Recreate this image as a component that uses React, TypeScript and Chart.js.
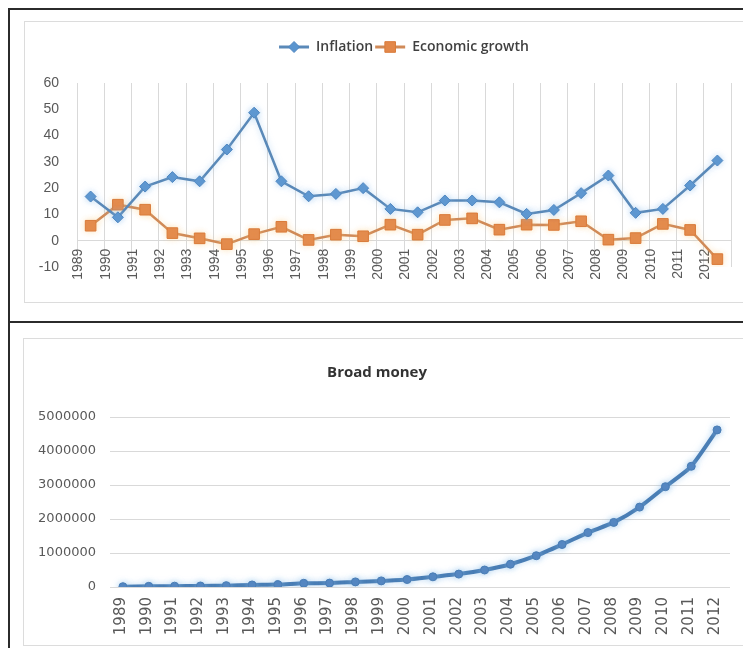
import React, { useEffect, useRef } from 'react';
import { Chart, registerables } from 'chart.js';

Chart.register(...registerables);

const years = ['1989', '1990', '1991', '1992', '1993', '1994', '1995', '1996', '1997', '1998', '1999', '2000', '2001', '2002', '2003', '2004', '2005', '2006', '2007', '2008', '2009', '2010', '2011', '2012'];
const inflation = [16.8, 8.9, 20.6, 24.2, 22.6, 34.7, 48.7, 22.6, 16.9, 17.8, 20.0, 12.1, 10.8, 15.3, 15.3, 14.6, 10.2, 11.7, 18.1, 24.8, 10.6, 12.1, 21.0, 30.5];
const economicGrowth = [5.7, 13.7, 11.8, 2.9, 0.9, -1.3, 2.5, 5.3, 0.3, 2.3, 1.7, 6.1, 2.3, 7.9, 8.5, 4.2, 6.1, 6.0, 7.4, 0.4, 1.0, 6.4, 4.1, -7.0];
const broadMoney = [10000, 20000, 25000, 30000, 40000, 60000, 70000, 110000, 115000, 150000, 180000, 220000, 300000, 380000, 500000, 670000, 920000, 1250000, 1600000, 1900000, 2350000, 2950000, 3550000, 4620000];
const topTicks = { min: -10, max: 60, step: 10 };
const bottomTicks = { min: 0, max: 5000000, step: 1000000 };

const GRID = '#d9d9d9';
const TEXT = '#595959';

const glowPlugin = {
  id: 'glow',
  beforeDatasetDraw(chart: any, args: any, opts: any) {
    const c = (opts && opts.colors && opts.colors[args.index]) || 'rgba(0,0,0,0)';
    chart.ctx.save();
    chart.ctx.shadowColor = c;
    chart.ctx.shadowBlur = 6;
  },
  afterDatasetDraw(chart: any) {
    chart.ctx.restore();
  },
};

const legendSpacer = {
  id: 'legendSpacer',
  beforeLayout(chart: any, _args: any, opts: any) {
    const lg = chart.legend;
    if (lg && !lg.__spaced) {
      const orig = lg.fit.bind(lg);
      lg.fit = function () {
        orig();
        this.height += (opts && opts.extra) || 0;
      };
      lg.__spaced = true;
    }
  },
};

const legendMarkers = {
  id: 'legendMarkers',
  afterDraw(chart: any) {
    const lg = chart.legend;
    if (!lg || !lg.legendHitBoxes) return;
    const ctx = chart.ctx;
    const bw = lg.options.labels.boxWidth;
    lg.legendHitBoxes.forEach((hb: any, i: number) => {
      const ds: any = chart.data.datasets[i];
      const cx = hb.left + bw / 2;
      const cy = hb.top + hb.height / 2;
      const r = ds.pointRadius;
      ctx.save();
      ctx.fillStyle = ds.pointBackgroundColor;
      ctx.strokeStyle = ds.pointBorderColor;
      ctx.lineWidth = 1;
      ctx.beginPath();
      if (ds.pointStyle === 'rectRot') {
        ctx.moveTo(cx - r, cy);
        ctx.lineTo(cx, cy - r);
        ctx.lineTo(cx + r, cy);
        ctx.lineTo(cx, cy + r);
        ctx.closePath();
      } else {
        const s = r * Math.SQRT1_2;
        ctx.rect(cx - s, cy - s, 2 * s, 2 * s);
      }
      ctx.fill();
      ctx.stroke();
      ctx.restore();
    });
  },
};

function TopChart() {
  const ref = useRef<HTMLCanvasElement>(null);
  useEffect(() => {
    if (!ref.current) return;
    const lineColors = ['#5A89B8', '#D08A58'];
    const tickFont = { family: '"Liberation Sans", Arial, sans-serif', size: 14 };
    const chart = new Chart(ref.current, {
      type: 'line',
      data: {
        labels: years,
        datasets: [
          {
            label: 'Inflation',
            data: inflation,
            borderColor: lineColors[0],
            backgroundColor: lineColors[0],
            borderWidth: 2.5,
            pointStyle: 'rectRot',
            pointRadius: 5.5,
            pointBackgroundColor: '#5B95CF',
            pointBorderColor: '#4F86C0',
            pointBorderWidth: 1,
            tension: 0,
          } as any,
          {
            label: 'Economic growth',
            data: economicGrowth,
            borderColor: lineColors[1],
            backgroundColor: lineColors[1],
            borderWidth: 2.5,
            pointStyle: 'rect',
            pointRadius: 7.5,
            pointBackgroundColor: '#E3884A',
            pointBorderColor: '#D97B3A',
            pointBorderWidth: 1,
            tension: 0,
          } as any,
        ],
      },
      options: {
        responsive: false,
        animation: false,
        devicePixelRatio: 1,
        layout: { padding: { top: 16, right: 17, bottom: 35, left: 0 } },
        plugins: {
          tooltip: { enabled: false },
          glow: { colors: ['rgba(140,190,235,0.55)', 'rgba(250,200,120,0.45)'] },
          legendSpacer: { extra: 19 },
          legend: {
            display: true,
            position: 'top',
            fullSize: false,
            labels: {
              boxWidth: 30,
              boxHeight: 3,
              padding: 2,
              color: '#404040',
              font: { family: '"Open Sans", sans-serif', size: 14, weight: '600' },
              generateLabels: (ch: any) =>
                (Chart.defaults.plugins.legend.labels.generateLabels as any)(ch).map((l: any) => ({
                  ...l,
                  fillStyle: lineColors[l.datasetIndex],
                  strokeStyle: lineColors[l.datasetIndex],
                  lineWidth: 0,
                })),
            },
          },
        } as any,
        scales: {
          x: {
            type: 'category',
            position: { y: 0 } as any,
            offset: true,
            grid: { offset: true, color: GRID, lineWidth: 1, drawTicks: false },
            border: { display: true, color: GRID, width: 1 },
            ticks: {
              autoSkip: false,
              minRotation: 90,
              maxRotation: 90,
              padding: 8,
              labelOffset: -12,
              color: TEXT,
              font: tickFont,
            },
          },
          y: {
            min: topTicks.min,
            max: topTicks.max,
            grid: { display: false, drawTicks: false },
            border: { display: false },
            ticks: { stepSize: topTicks.step, padding: 18, color: TEXT, font: tickFont },
            afterFit: (s: any) => {
              s.width = 52;
            },
          },
        },
      } as any,
      plugins: [glowPlugin, legendSpacer, legendMarkers],
    });
    return () => chart.destroy();
  }, []);
  return <canvas ref={ref} width={723} height={280} style={{ display: 'block', width: 723, height: 280 }} />;
}

function BottomChart() {
  const ref = useRef<HTMLCanvasElement>(null);
  useEffect(() => {
    if (!ref.current) return;
    const chart = new Chart(ref.current, {
      type: 'line',
      data: {
        labels: years,
        datasets: [
          {
            label: 'Broad money',
            data: broadMoney,
            borderColor: '#4A7EB5',
            backgroundColor: '#4F81BD',
            borderWidth: 4,
            pointStyle: 'circle',
            pointRadius: 4,
            pointBackgroundColor: '#4F81BD',
            pointBorderColor: '#4A7EB5',
            pointBorderWidth: 1,
            tension: 0.2,
          } as any,
        ],
      },
      options: {
        responsive: false,
        animation: false,
        devicePixelRatio: 1,
        layout: { padding: { top: 0, right: 18, bottom: 0, left: 0 } },
        plugins: {
          tooltip: { enabled: false },
          legend: { display: false },
          glow: { colors: ['rgba(140,190,235,0.6)'] },
          title: {
            display: true,
            text: 'Broad money',
            color: '#333333',
            font: { family: '"Open Sans", sans-serif', size: 15, weight: 'bold' },
            padding: { top: 25, bottom: 35 },
          },
        } as any,
        scales: {
          x: {
            offset: true,
            grid: { display: false, drawTicks: false },
            border: { display: false },
            ticks: {
              autoSkip: false,
              minRotation: 90,
              maxRotation: 90,
              padding: 10,
              labelOffset: -2,
              color: TEXT,
              font: { family: '"DejaVu Sans", sans-serif', size: 15 },
            },
            afterFit: (s: any) => {
              s.height = 58;
            },
          },
          y: {
            min: bottomTicks.min,
            max: bottomTicks.max,
            grid: { color: GRID, lineWidth: 1, drawTicks: false },
            border: { display: false },
            ticks: {
              stepSize: bottomTicks.step,
              padding: 14,
              color: TEXT,
              font: { family: '"DejaVu Sans", sans-serif', size: 13 },
              callback: (v: any) => String(v),
            },
            afterFit: (s: any) => {
              s.width = 86;
            },
          },
        },
      } as any,
      plugins: [glowPlugin],
    });
    return () => chart.destroy();
  }, []);
  return <canvas ref={ref} width={724} height={306} style={{ display: 'block', width: 724, height: 306 }} />;
}

export default function App() {
  const dark = '#2b2b2b';
  return (
    <div style={{ position: 'relative', width: 743, height: 640, background: '#ffffff' }}>
      <div style={{ position: 'absolute', left: 0, top: 0, width: 743, height: 2, background: dark }} />
      <div style={{ position: 'absolute', left: 0, top: 0, width: 2, height: 640, background: dark }} />
      <div style={{ position: 'absolute', left: 0, top: 313, width: 743, height: 2, background: dark }} />
      <div
        style={{
          position: 'absolute',
          left: 16,
          top: 13,
          width: 725,
          height: 282,
          boxSizing: 'border-box',
          border: '1px solid #dcdcdc',
        }}
      >
        <TopChart />
      </div>
      <div
        style={{
          position: 'absolute',
          left: 15,
          top: 330,
          width: 726,
          height: 308,
          boxSizing: 'border-box',
          border: '1px solid #dcdcdc',
        }}
      >
        <BottomChart />
      </div>
    </div>
  );
}
